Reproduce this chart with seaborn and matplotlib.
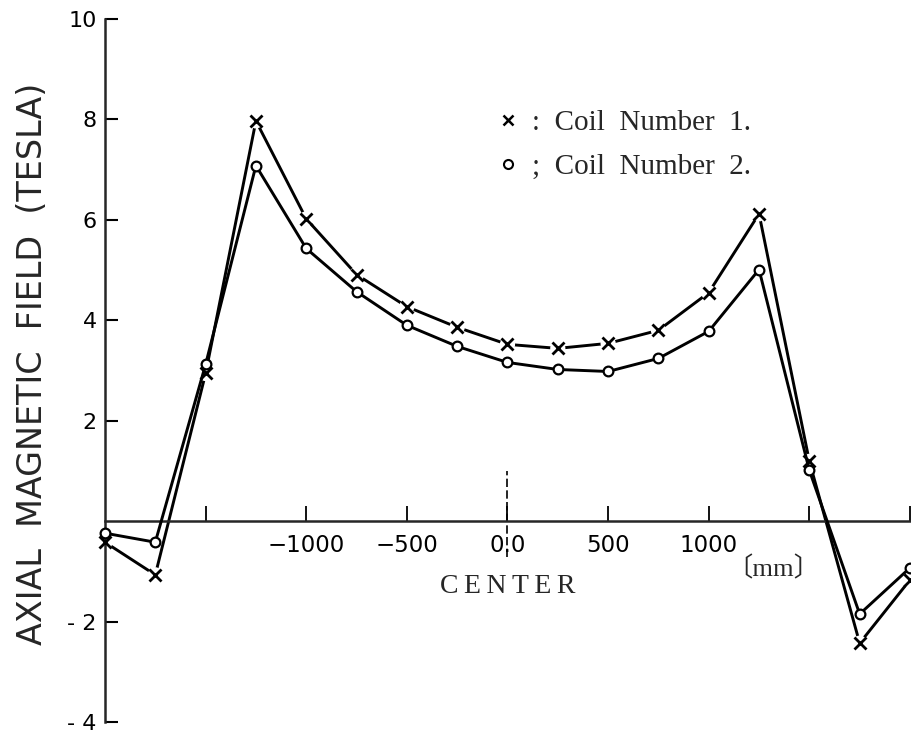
import matplotlib
matplotlib.use("Agg")
import matplotlib.pyplot as plt
from matplotlib.lines import Line2D
import pandas as pd
import seaborn as sns

# axial position along the coil (mm) and measured field (tesla)
position_mm = [-2000, -1750, -1500, -1250, -1000, -750, -500, -250, 0,
               250, 500, 750, 1000, 1250, 1500, 1750, 2000]
coil1_tesla = [-0.42, -1.07, 2.94, 7.97, 6.02, 4.91, 4.27, 3.86, 3.52,
               3.44, 3.54, 3.80, 4.55, 6.12, 1.19, -2.43, -1.17]
coil2_tesla = [-0.24, -0.42, 3.12, 7.08, 5.43, 4.57, 3.90, 3.48, 3.16,
               3.02, 2.98, 3.24, 3.78, 5.01, 1.01, -1.85, -0.93]

coil_names = ["Coil Number 1.", "Coil Number 2."]
legend_labels = [":  Coil  Number  1.", ";  Coil  Number  2."]

y_ticks = [10, 8, 6, 4, 2, -2, -4]
y_tick_labels = ["10", "8", "6", "4", "2", "- 2", "- 4"]
x_ticks = [-1500, -1000, -500, 0, 500, 1000, 1500, 2000]
x_tick_labels = ["", "\u22121000", "\u2212500", "0.0", "500", "1000", "", ""]

df = pd.DataFrame({
    "position": position_mm * 2,
    "field": coil1_tesla + coil2_tesla,
    "coil": [coil_names[0]] * len(position_mm) + [coil_names[1]] * len(position_mm),
})

sns.set_style("ticks")
plt.rcParams["font.family"] = ["DejaVu Sans"]
serif = ["Liberation Serif", "DejaVu Serif"]

fig = plt.figure(figsize=(9.12, 7.35), dpi=100)
ax = fig.add_axes([0.1151, 0.0177, 0.8827, 0.9565])

c1 = df[df["coil"] == coil_names[0]]
c2 = df[df["coil"] == coil_names[1]]

# coil 1: line broken around the crosses
sns.lineplot(data=c1, x="position", y="field", color="black", lw=2.1,
             sort=False, estimator=None, ax=ax, clip_on=False, zorder=2)
sns.scatterplot(data=c1, x="position", y="field", marker="o", s=120,
                color="white", edgecolor="none", ax=ax, clip_on=False, zorder=3)
sns.scatterplot(data=c1, x="position", y="field", marker="x", s=75,
                color="black", linewidth=2, ax=ax, clip_on=False, zorder=4)

# coil 2: open circles
sns.lineplot(data=c2, x="position", y="field", color="black", lw=2.1,
             marker="o", markersize=7, markerfacecolor="white",
             markeredgecolor="black", markeredgewidth=1.6,
             sort=False, estimator=None, ax=ax, clip_on=False, zorder=5)

# center reference mark
ax.vlines(0, -0.72, 1.0, colors="black", linestyles=(0, (5, 2)), lw=1.2, zorder=1)

ax.set_xlim(-2000, 2000)
ax.set_ylim(-4, 10)
ax.spines["top"].set_visible(False)
ax.spines["right"].set_visible(False)
ax.spines["bottom"].set_position(("data", 0))
for side in ["left", "bottom"]:
    ax.spines[side].set_linewidth(1.8)
    ax.spines[side].set_zorder(3.5)

ax.set_xticks(x_ticks)
ax.set_xticklabels(x_tick_labels)
ax.set_yticks(y_ticks)
ax.set_yticklabels(y_tick_labels)
ax.tick_params(axis="x", direction="in", length=11, width=1.3, pad=9,
               labelsize=16.5, colors="black")
ax.tick_params(axis="y", direction="in", length=9, width=1.5, pad=6,
               labelsize=16, colors="black")

ax.set_xlabel("")
ax.set_ylabel("AXIAL  MAGNETIC  FIELD  (TESLA)", fontsize=24)
ax.yaxis.set_label_coords(-0.07, 0.509)

ax.text(0, -1.31, "C\u2009E\u2009N\u2009T\u2009E\u2009R", ha="center", va="center",
        family=serif, fontsize=20)
ax.text(1323, -0.94, "\u3014mm\u3015", ha="center", va="center",
        family=["Liberation Serif", "Noto Sans CJK JP"], fontsize=19)

handles = [
    Line2D([], [], ls="none", marker="x", color="black", markersize=7, markeredgewidth=1.8),
    Line2D([], [], ls="none", marker="o", markerfacecolor="white",
           markeredgecolor="black", markersize=6.5, markeredgewidth=1.5),
]
ax.legend(handles, legend_labels, loc="upper left", bbox_to_anchor=(0.487, 0.871),
          frameon=False, prop={"family": serif, "size": 21}, handlelength=0.75,
          handletextpad=0.45, borderpad=0, borderaxespad=0, labelspacing=0.6)

fig.savefig("out.png", dpi=100)
plt.close(fig)
